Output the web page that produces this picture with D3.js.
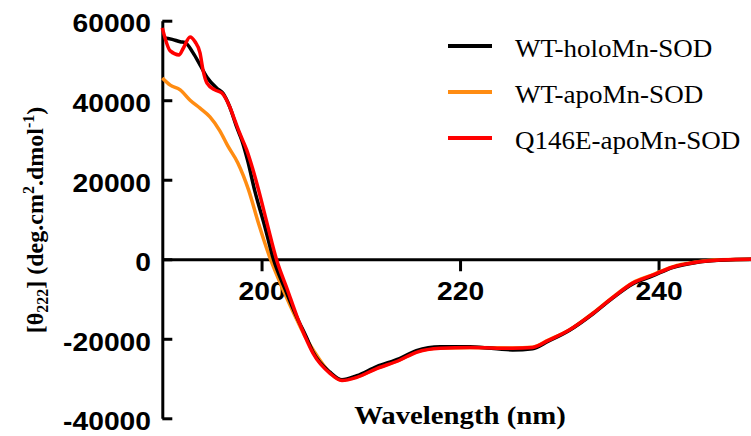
<!doctype html>
<html>
<head>
	<meta charset="utf-8">
	<script src="https://d3js.org/d3.v7.min.js"></script>
	<style>
		body { margin: 0; background: #fff; }
		svg { display: block; }
	</style>
</head>
<body>
	<div id="chart"></div>

	<script>
		// wavelengths (nm) and mean residue ellipticity
		var holoWl  = [190.0, 191.0, 191.8, 192.3, 193.1, 193.8, 194.5, 195.5, 196.1, 196.8, 197.5, 198.0, 198.6, 199.3, 200.3, 201.2, 202.4, 203.6, 204.5, 205.2, 206.9, 208.1, 209.6, 211.6, 213.9, 215.6, 218.0, 221.0, 225.3, 227.3, 228.9, 231.0, 233.4, 235.4, 237.4, 239.4, 241.4, 243.8, 246.2, 249.3, 250];
		var holoVal = [55700, 55300, 54700, 54500, 51900, 48900, 45800, 43000, 41800, 38300, 33200, 30000, 24800, 17400, 8500, 0, -7700, -14800, -19500, -23400, -28400, -30300, -29300, -27000, -25000, -23000, -22000, -22000, -22800, -22500, -20600, -17900, -13700, -9700, -6200, -4200, -2100, -800, -250, 0, 0];

		var apoWl  = [190.0, 190.8, 191.8, 192.8, 193.8, 194.8, 195.8, 196.6, 197.6, 198.7, 199.7, 200.9, 202.2, 203.4, 204.3, 205.3, 206.9, 208.1, 209.6, 211.6, 213.9, 215.6, 218.0, 221.0, 225.3, 227.3, 228.9, 231.0, 233.4, 235.4, 237.4, 239.4, 241.4, 243.8, 246.2, 249.3, 250];
		var apoVal = [45600, 43800, 42600, 40000, 38000, 35800, 32300, 28500, 24300, 17400, 9000, 0, -7800, -14400, -19000, -23200, -28600, -30400, -29600, -27400, -25300, -23300, -22300, -22200, -22300, -22100, -20300, -17800, -13500, -9500, -5900, -3900, -1900, -700, -150, 0, 0];

		var q146eWl  = [190.0, 190.8, 191.7, 192.1, 192.8, 193.3, 193.8, 194.1, 194.5, 195.3, 196.0, 196.8, 197.3, 197.8, 198.5, 199.1, 199.7, 200.6, 201.5, 202.6, 203.6, 204.4, 205.2, 206.9, 208.1, 209.6, 211.6, 213.9, 215.6, 218.0, 221.0, 225.3, 227.3, 228.9, 231.0, 233.4, 235.4, 237.4, 239.4, 241.4, 243.8, 246.2, 249.3, 250];
		var q146eVal = [58200, 52400, 51400, 53000, 55900, 54700, 51900, 47600, 44300, 42600, 41800, 38300, 35000, 31700, 27500, 22800, 17400, 8600, 0, -7600, -14600, -19500, -23700, -28700, -30500, -29700, -27500, -25400, -23400, -22400, -22200, -22400, -22200, -20400, -17800, -13600, -9600, -6000, -4000, -2000, -750, -200, 0, 0];

		var seriesNames = ["WT-holoMn-SOD", "WT-apoMn-SOD", "Q146E-apoMn-SOD"];
		var seriesColors = ["#000000", "#ff8c12", "#ff0000"];
		var xTicks = [200, 220, 240];
		var yTicks = [-40000, -20000, 0, 20000, 40000, 60000];

		var width = 751, height = 436;

		var svg = d3.select("#chart")
			.append("svg")
				.attr("width", width)
				.attr("height", height);

		var xScale = d3.scaleLinear().domain([190, 250]).range([162.3, 757.8]);
		var yScale = d3.scaleLinear().domain([-40000, 60000]).range([418.3, 20.7]);

		function pairs(wl, val) {
			return wl.map(function(w, i) { return {x: w, y: val[i]}; });
		}
		var series = [pairs(holoWl, holoVal), pairs(apoWl, apoVal), pairs(q146eWl, q146eVal)];

		var sansBold = "'Liberation Sans', Arial, sans-serif";
		var serif = "'Liberation Serif', 'Times New Roman', serif";

		// y axis, ticks point inside the plot
		var yAxis = svg.append("g")
			.attr("transform", "translate(" + xScale(190) + ",0)")
			.call(d3.axisLeft(yScale).tickValues(yTicks).tickSize(-10).tickSizeOuter(0).tickPadding(10)
				.tickFormat(function(d) { return String(d); }));

		// x axis on the zero line
		var xAxis = svg.append("g")
			.attr("transform", "translate(0," + yScale(0) + ")")
			.call(d3.axisBottom(xScale).tickValues(xTicks).tickSize(12).tickSizeOuter(0).tickPadding(11));

		[yAxis, xAxis].forEach(function(ax) {
			ax.select(".domain").attr("stroke", "#000").attr("stroke-width", 3);
			ax.selectAll(".tick line").attr("stroke", "#000").attr("stroke-width", 3);
			ax.selectAll(".tick text")
				.attr("fill", "#000")
				.style("font-family", sansBold)
				.style("font-weight", "bold")
				.style("font-size", "25px")
				.attr("transform", "scale(1.13,1)");
		});
		yAxis.selectAll(".tick text").attr("dy", "0.45em");

		// curves
		var line = d3.line()
			.x(function(d) { return xScale(d.x); })
			.y(function(d) { return yScale(d.y); })
			.curve(d3.curveMonotoneX);

		[1, 0, 2].forEach(function(i) {
			svg.append("path")
				.datum(series[i])
				.attr("fill", "none")
				.attr("stroke", seriesColors[i])
				.attr("stroke-width", 3.5)
				.attr("stroke-linejoin", "round")
				.attr("d", line);
		});

		// legend
		var legend = svg.append("g");
		seriesNames.forEach(function(name, i) {
			var ly = 46 + i * 46;
			legend.append("line")
				.attr("x1", 448).attr("x2", 492)
				.attr("y1", ly).attr("y2", ly)
				.attr("stroke", seriesColors[i])
				.attr("stroke-width", 4);
			legend.append("text")
				.attr("transform", "translate(515," + (ly + 11) + ") scale(1.04,1)")
				.style("font-family", serif)
				.style("font-size", "26px")
				.attr("fill", "#000")
				.text(name);
		});

		// x axis title
		svg.append("text")
			.attr("transform", "translate(460,424) scale(1.15,1)")
			.attr("text-anchor", "middle")
			.style("font-family", serif)
			.style("font-weight", "bold")
			.style("font-size", "25px")
			.attr("fill", "#000")
			.text("Wavelength (nm)");

		// y axis title
		var yTitle = svg.append("text")
			.attr("transform", "translate(43,220) rotate(-90)")
			.attr("text-anchor", "middle")
			.style("font-family", serif)
			.style("font-weight", "bold")
			.style("font-size", "24px")
			.attr("fill", "#000");
		yTitle.append("tspan").text("[\u03b8");
		yTitle.append("tspan").attr("dy", 5).style("font-size", "16px").text("222");
		yTitle.append("tspan").attr("dy", -5).text("] (deg.cm");
		yTitle.append("tspan").attr("dy", -9).style("font-size", "16px").text("2");
		yTitle.append("tspan").attr("dy", 9).text(".dmol");
		yTitle.append("tspan").attr("dy", -9).style("font-size", "16px").text("-1");
		yTitle.append("tspan").attr("dy", 9).text(")");
	</script>
</body>
</html>
